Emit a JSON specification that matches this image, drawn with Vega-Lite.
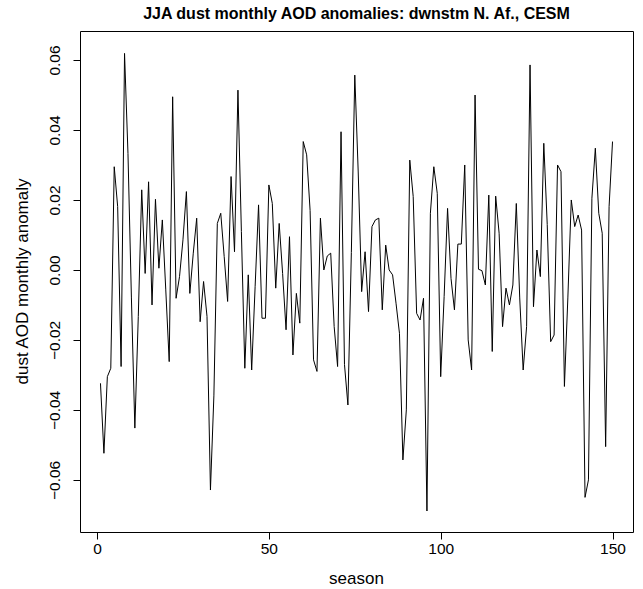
{
"$schema":"https://vega.github.io/schema/vega-lite/v6.json",
"width":553,"height":501,
"autosize":{"type":"none"},
"padding":{"left":80,"top":31,"right":10,"bottom":57},
"background":"white",
"config":{"font":"Liberation Sans","view":{"stroke":"black","strokeWidth":1},
"axis":{"grid":false,"domain":false,"tickColor":"black","tickSize":7,"labelColor":"black","titleColor":"black","labelFont":"Liberation Sans","titleFont":"Liberation Sans","labelFontSize":15.5,"titleFontSize":17,"titleFontWeight":"normal"}},
"title":{"text":"JJA dust monthly AOD anomalies: dwnstm N. Af., CESM","font":"Liberation Sans","fontSize":16,"fontWeight":"bold","anchor":"middle","frame":"group","baseline":"alphabetic","offset":12,"dy":16,"color":"black"},
"data":{"values":[
{"season":1,"anomaly":-0.0324},{"season":2,"anomaly":-0.0524},{"season":3,"anomaly":-0.0305},{"season":4,"anomaly":-0.0281},{"season":5,"anomaly":0.0295},
{"season":6,"anomaly":0.0181},{"season":7,"anomaly":-0.0276},{"season":8,"anomaly":0.0619},{"season":9,"anomaly":0.0333},{"season":10,"anomaly":-0.008},
{"season":11,"anomaly":-0.0452},{"season":12,"anomaly":-0.0133},{"season":13,"anomaly":0.0229},{"season":14,"anomaly":-0.001},{"season":15,"anomaly":0.0252},
{"season":16,"anomaly":-0.01},{"season":17,"anomaly":0.0202},{"season":18,"anomaly":0.0005},{"season":19,"anomaly":0.0143},{"season":20,"anomaly":-0.0057},
{"season":21,"anomaly":-0.0262},{"season":22,"anomaly":0.0495},{"season":23,"anomaly":-0.0081},{"season":24,"anomaly":-0.0019},{"season":25,"anomaly":0.0086},
{"season":26,"anomaly":0.0224},{"season":27,"anomaly":-0.0067},{"season":28,"anomaly":0.0048},{"season":29,"anomaly":0.0148},{"season":30,"anomaly":-0.0148},
{"season":31,"anomaly":-0.0033},{"season":32,"anomaly":-0.0133},{"season":33,"anomaly":-0.0629},{"season":34,"anomaly":-0.036},{"season":35,"anomaly":0.0133},
{"season":36,"anomaly":0.0162},{"season":37,"anomaly":0.0038},{"season":38,"anomaly":-0.009},{"season":39,"anomaly":0.0267},{"season":40,"anomaly":0.0052},
{"season":41,"anomaly":0.0514},{"season":42,"anomaly":0.011},{"season":43,"anomaly":-0.0281},{"season":44,"anomaly":-0.0014},{"season":45,"anomaly":-0.0286},
{"season":46,"anomaly":-0.0048},{"season":47,"anomaly":0.0186},{"season":48,"anomaly":-0.0138},{"season":49,"anomaly":-0.0138},{"season":50,"anomaly":0.0243},
{"season":51,"anomaly":0.019},{"season":52,"anomaly":-0.0052},{"season":53,"anomaly":0.0133},{"season":54,"anomaly":-0.001},{"season":55,"anomaly":-0.0171},
{"season":56,"anomaly":0.0095},{"season":57,"anomaly":-0.0243},{"season":58,"anomaly":-0.0067},{"season":59,"anomaly":-0.0152},{"season":60,"anomaly":0.0367},
{"season":61,"anomaly":0.0329},{"season":62,"anomaly":0.017},{"season":63,"anomaly":-0.0257},{"season":64,"anomaly":-0.029},{"season":65,"anomaly":0.0148},
{"season":66,"anomaly":0.0},{"season":67,"anomaly":0.004},{"season":68,"anomaly":0.0048},{"season":69,"anomaly":-0.0162},{"season":70,"anomaly":-0.0276},
{"season":71,"anomaly":0.0395},{"season":72,"anomaly":-0.027},{"season":73,"anomaly":-0.0386},{"season":74,"anomaly":0.005},{"season":75,"anomaly":0.0557},
{"season":76,"anomaly":0.028},{"season":77,"anomaly":-0.0062},{"season":78,"anomaly":0.0052},{"season":79,"anomaly":-0.0119},{"season":80,"anomaly":0.0124},
{"season":81,"anomaly":0.0143},{"season":82,"anomaly":0.0148},{"season":83,"anomaly":-0.0114},{"season":84,"anomaly":0.0071},{"season":85,"anomaly":0.0},
{"season":86,"anomaly":-0.0014},{"season":87,"anomaly":-0.0095},{"season":88,"anomaly":-0.0181},{"season":89,"anomaly":-0.0543},{"season":90,"anomaly":-0.04},
{"season":91,"anomaly":0.0314},{"season":92,"anomaly":0.021},{"season":93,"anomaly":-0.0124},{"season":94,"anomaly":-0.0143},{"season":95,"anomaly":-0.0081},
{"season":96,"anomaly":-0.0689},{"season":97,"anomaly":0.0162},{"season":98,"anomaly":0.0295},{"season":99,"anomaly":0.0219},{"season":100,"anomaly":-0.0305},
{"season":101,"anomaly":-0.0076},{"season":102,"anomaly":0.0176},{"season":103,"anomaly":-0.0024},{"season":104,"anomaly":-0.0114},{"season":105,"anomaly":0.0074},
{"season":106,"anomaly":0.0074},{"season":107,"anomaly":0.03},{"season":108,"anomaly":-0.02},{"season":109,"anomaly":-0.0286},{"season":110,"anomaly":0.05},
{"season":111,"anomaly":0.0002},{"season":112,"anomaly":-0.0002},{"season":113,"anomaly":-0.0043},{"season":114,"anomaly":0.0214},{"season":115,"anomaly":-0.0233},
{"season":116,"anomaly":0.0211},{"season":117,"anomaly":0.0105},{"season":118,"anomaly":-0.0162},{"season":119,"anomaly":-0.0052},{"season":120,"anomaly":-0.01},
{"season":121,"anomaly":-0.0043},{"season":122,"anomaly":0.019},{"season":123,"anomaly":-0.008},{"season":124,"anomaly":-0.0286},{"season":125,"anomaly":-0.0162},
{"season":126,"anomaly":0.0586},{"season":127,"anomaly":-0.0105},{"season":128,"anomaly":0.0057},{"season":129,"anomaly":-0.0019},{"season":130,"anomaly":0.0362},
{"season":131,"anomaly":0.013},{"season":132,"anomaly":-0.0205},{"season":133,"anomaly":-0.0186},{"season":134,"anomaly":0.03},{"season":135,"anomaly":0.0281},
{"season":136,"anomaly":-0.0333},{"season":137,"anomaly":-0.008},{"season":138,"anomaly":0.02},{"season":139,"anomaly":0.0124},{"season":140,"anomaly":0.0157},
{"season":141,"anomaly":0.0114},{"season":142,"anomaly":-0.065},{"season":143,"anomaly":-0.06},{"season":144,"anomaly":0.0205},{"season":145,"anomaly":0.0348},
{"season":146,"anomaly":0.0162},{"season":147,"anomaly":0.0105},{"season":148,"anomaly":-0.0505},{"season":149,"anomaly":0.0181},{"season":150,"anomaly":0.0367}
]},
"mark":{"type":"line","color":"black","strokeWidth":1,"clip":true},
"encoding":{
"x":{"field":"season","type":"quantitative","scale":{"domain":[-4.96,155.96],"nice":false,"zero":false},
"axis":{"title":"season","values":[0,50,100,150],"labelPadding":2,"titleX":276,"titleY":46,"titleBaseline":"middle","titleAlign":"center"}},
"y":{"field":"anomaly","type":"quantitative","scale":{"domain":[-0.0749,0.0683],"nice":false,"zero":false},
"axis":{"title":"dust AOD monthly anomaly","values":[-0.06,-0.04,-0.02,0,0.02,0.04,0.06],"format":".2f","labelAngle":-90,"labelAlign":"center","labelBaseline":"bottom","labelPadding":11,"titleAngle":-90,"titleX":-58,"titleY":250,"titleAlign":"center","titleBaseline":"middle"}}
}
}
